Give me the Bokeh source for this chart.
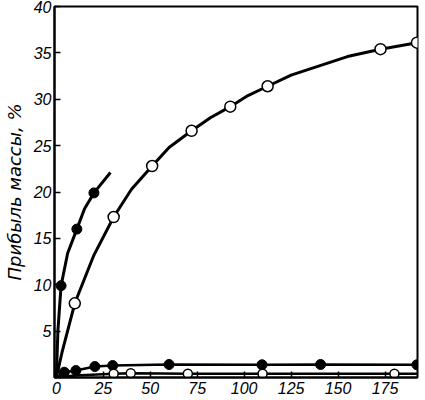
from bokeh.plotting import figure
from bokeh.models import FixedTicker, Range1d
from bokeh.embed import file_html
from bokeh.resources import INLINE

# Series A: filled markers, steep curve
a_x = [2.5, 10.9, 20.0]
a_y = [9.9, 16.0, 19.9]
a_curve_x = [0, 0.8, 2.5, 6.0, 10.9, 15.0, 20.0, 28.8]
a_curve_y = [0, 5.0, 9.9, 13.4, 16.0, 18.2, 19.9, 22.1]

# Series B: open markers, large curve
b_x = [9.8, 30.5, 51.0, 72.0, 92.6, 112.5, 172.6, 192.0]
b_y = [8.0, 17.3, 22.8, 26.6, 29.2, 31.4, 35.4, 36.1]
b_curve_x = [0, 3.0, 9.8, 20.0, 30.5, 40.0, 51.0, 60.0, 72.0, 82.0, 92.6, 102.0,
             112.5, 125.0, 140.0, 155.0, 172.6, 192.0]
b_curve_y = [0, 2.7, 8.0, 13.2, 17.3, 20.3, 22.8, 24.8, 26.6, 28.0, 29.2, 30.4,
             31.4, 32.6, 33.6, 34.6, 35.4, 36.1]

# Series C: filled markers, low
c_x = [4.2, 10.4, 20.5, 30.0, 60.0, 109.5, 140.7, 192.0]
c_y = [0.57, 0.75, 1.18, 1.29, 1.4, 1.37, 1.4, 1.37]
c_curve_x = [0] + c_x
c_curve_y = [0] + c_y

# Series D: open markers, lowest
d_x = [30.5, 39.6, 70.0, 109.8, 180.0]
d_y = [0.4, 0.46, 0.4, 0.4, 0.4]
d_curve_x = [0, 10.0, 30.5, 39.6, 70.0, 109.8, 180.0, 192.0]
d_curve_y = [0, 0.22, 0.4, 0.46, 0.4, 0.4, 0.4, 0.4]

x_ticks = [0, 25, 50, 75, 100, 125, 150, 175]
y_ticks = [0, 5, 10, 15, 20, 25, 30, 35, 40]
y_label = "Прибыль массы, %"

FONT = "Liberation Sans Narrow, Liberation Sans, sans-serif"

p = figure(width=425, height=400, output_backend="svg", toolbar_location=None,
           x_range=Range1d(-1, 192.3), y_range=Range1d(0, 40),
           min_border_left=50, min_border_right=8, min_border_top=6, min_border_bottom=23)
p.xgrid.visible = False
p.ygrid.visible = False
p.outline_line_color = "black"
p.outline_line_width = 2
p.background_fill_color = "white"
p.border_fill_color = "white"

for ax in (p.xaxis[0], p.yaxis[0]):
    ax.axis_line_width = 2
    ax.axis_line_color = "black"
    ax.major_tick_in = 6
    ax.major_tick_out = 0
    ax.minor_tick_in = 0
    ax.minor_tick_out = 0
    ax.major_tick_line_width = 1.5
    ax.major_label_text_font = FONT
    ax.major_label_text_font_style = "italic"
    ax.major_label_text_font_size = "16px"
    ax.major_label_text_color = "black"

p.xaxis.ticker = FixedTicker(ticks=x_ticks)
p.yaxis.ticker = FixedTicker(ticks=y_ticks)
p.yaxis.major_label_overrides = {0: ""}
p.xaxis.major_label_standoff = 4
p.yaxis.major_label_standoff = 3

p.yaxis.axis_label = y_label
p.yaxis.axis_label_text_font = "DejaVu Sans"
p.yaxis.axis_label_text_font_style = "italic"
p.yaxis.axis_label_text_font_size = "18px"
p.yaxis.axis_label_standoff = 6
p.yaxis.axis_label_text_color = "black"

# curves
p.line(a_curve_x, a_curve_y, line_width=3, color="black", line_join="round")
p.line(b_curve_x, b_curve_y, line_width=3, color="black", line_join="round")
p.line(c_curve_x, c_curve_y, line_width=2.5, color="black")
p.line(d_curve_x, d_curve_y, line_width=2.5, color="black")

# markers
p.scatter(a_x, a_y, size=10, marker="circle", fill_color="black", line_color="black")
p.scatter(c_x, c_y, size=10, marker="circle", fill_color="black", line_color="black")
p.scatter(b_x, b_y, size=11, marker="circle", fill_color="white", line_color="black", line_width=1.5)
p.scatter(d_x, d_y, size=9, marker="circle", fill_color="white", line_color="black", line_width=1.5)

open("out.html", "w").write(file_html(p, INLINE))
